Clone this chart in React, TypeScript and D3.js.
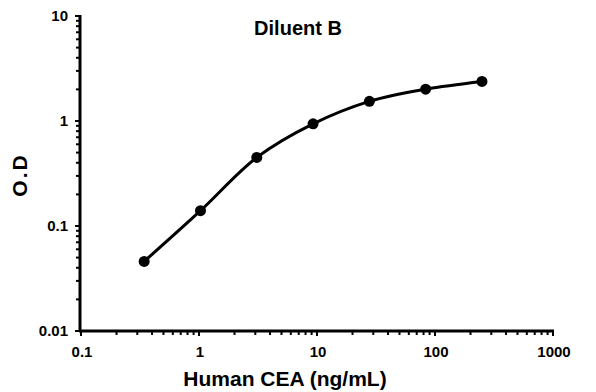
import React, { useRef, useEffect } from "react";
import * as d3 from "d3";

const concentrations = [0.343, 1.03, 3.09, 9.26, 27.8, 83.3, 250];
const odValues = [0.046, 0.14, 0.45, 0.94, 1.54, 2.01, 2.38];
const xTickLabels = ["0.1", "1", "10", "100", "1000"];
const yTickLabels = ["0.01", "0.1", "1", "10"];

const App = () => {
  const chartRef = useRef<SVGSVGElement>(null);

  useEffect(() => {
    const width = 596;
    const height = 392;
    const font = "'Liberation Sans', Arial, sans-serif";

    const svg = d3.select(chartRef.current);
    svg.selectAll("*").remove();

    const xScale = d3.scaleLog().domain([0.1, 1000]).range([81, 553]);
    const yScale = d3.scaleLog().domain([0.01, 10]).range([331, 16]);

    // minor ticks (2..9 within each decade)
    const minorX: number[] = [];
    for (let d = -1; d < 3; d++)
      for (let m = 2; m <= 9; m++) minorX.push(m * Math.pow(10, d));
    const minorY: number[] = [];
    for (let d = -2; d < 1; d++)
      for (let m = 2; m <= 9; m++) minorY.push(m * Math.pow(10, d));

    const xAxis = svg.append("g");
    xAxis
      .selectAll(".minor")
      .data(minorX)
      .enter()
      .append("line")
      .attr("x1", (d) => xScale(d))
      .attr("x2", (d) => xScale(d))
      .attr("y1", 331)
      .attr("y2", 335)
      .attr("stroke", "#000")
      .attr("stroke-width", 2);
    xAxis
      .selectAll(".major")
      .data(xTickLabels)
      .enter()
      .append("line")
      .attr("x1", (d) => xScale(+d))
      .attr("x2", (d) => xScale(+d))
      .attr("y1", 331)
      .attr("y2", 336)
      .attr("stroke", "#000")
      .attr("stroke-width", 2);
    xAxis
      .append("line")
      .attr("x1", 79)
      .attr("x2", xScale(1000) + 1)
      .attr("y1", 331)
      .attr("y2", 331)
      .attr("stroke", "#000")
      .attr("stroke-width", 3);
    xAxis
      .selectAll(".lab")
      .data(xTickLabels)
      .enter()
      .append("text")
      .attr("x", (d) => xScale(+d) + 1)
      .attr("y", 357)
      .attr("text-anchor", "middle")
      .attr("font-family", font)
      .attr("font-weight", "bold")
      .attr("font-size", 15)
      .text((d) => d);

    const yAxis = svg.append("g");
    yAxis
      .selectAll(".minor")
      .data(minorY)
      .enter()
      .append("line")
      .attr("x1", 76)
      .attr("x2", 80)
      .attr("y1", (d) => yScale(d))
      .attr("y2", (d) => yScale(d))
      .attr("stroke", "#000")
      .attr("stroke-width", 2);
    yAxis
      .selectAll(".major")
      .data(yTickLabels)
      .enter()
      .append("line")
      .attr("x1", 75)
      .attr("x2", 80)
      .attr("y1", (d) => yScale(+d))
      .attr("y2", (d) => yScale(+d))
      .attr("stroke", "#000")
      .attr("stroke-width", 2);
    yAxis
      .append("line")
      .attr("x1", 80)
      .attr("x2", 80)
      .attr("y1", yScale(10) - 1)
      .attr("y2", 332)
      .attr("stroke", "#000")
      .attr("stroke-width", 3);
    yAxis
      .selectAll(".lab")
      .data(yTickLabels)
      .enter()
      .append("text")
      .attr("x", 68)
      .attr("y", (d) => yScale(+d) + 5)
      .attr("text-anchor", "end")
      .attr("font-family", font)
      .attr("font-weight", "bold")
      .attr("font-size", 15)
      .text((d) => d);

    // standard curve
    const points = concentrations.map((c, i) => [c, odValues[i]] as [number, number]);
    const line = d3
      .line<[number, number]>()
      .x((d) => xScale(d[0]))
      .y((d) => yScale(d[1]))
      .curve(d3.curveCatmullRom.alpha(0.5));
    svg
      .append("path")
      .datum(points)
      .attr("d", line)
      .attr("fill", "none")
      .attr("stroke", "#000")
      .attr("stroke-width", 3);
    svg
      .selectAll(".dot")
      .data(points)
      .enter()
      .append("circle")
      .attr("cx", (d) => xScale(d[0]))
      .attr("cy", (d) => yScale(d[1]))
      .attr("r", 5.5)
      .attr("fill", "#000");

    // titles
    svg
      .append("text")
      .attr("x", 298)
      .attr("y", 35)
      .attr("text-anchor", "middle")
      .attr("font-family", font)
      .attr("font-weight", "bold")
      .attr("font-size", 20)
      .text("Diluent B");
    svg
      .append("text")
      .attr("x", 285)
      .attr("y", 386)
      .attr("text-anchor", "middle")
      .attr("font-family", font)
      .attr("font-weight", "bold")
      .attr("font-size", 21)
      .text("Human CEA (ng/mL)");
    svg
      .append("text")
      .attr("transform", "translate(27,175) rotate(-90)")
      .attr("text-anchor", "middle")
      .attr("font-family", font)
      .attr("font-weight", "bold")
      .attr("font-size", 21)
      .attr("letter-spacing", 2)
      .text("O.D");

    svg.attr("width", width).attr("height", height);
  }, []);

  return (
    <svg
      ref={chartRef}
      style={{ position: "absolute", left: 0, top: 0, background: "#fff" }}
      width={596}
      height={392}
    />
  );
};

export default App;
